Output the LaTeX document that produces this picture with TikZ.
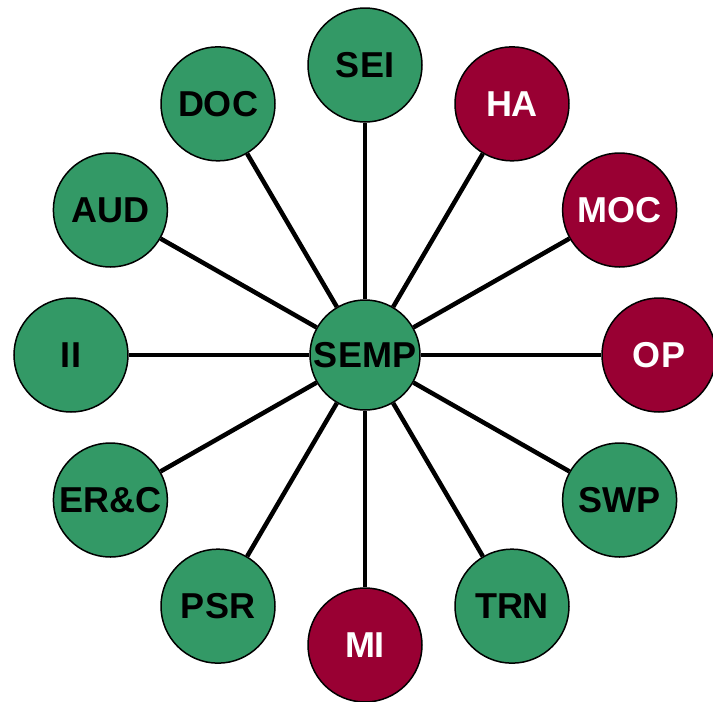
\documentclass[tikz,border=0pt]{standalone}
\usepackage{fontspec}
\usetikzlibrary{calc}
\setmainfont{Liberation Sans}
\definecolor{cgreen}{HTML}{339966}
\definecolor{cred}{HTML}{990033}
\begin{document}
\begin{tikzpicture}[x=1pt,y=-1pt,
  bub/.style={circle,draw=black,line width=1.5pt,minimum size=114pt,inner sep=0pt,
    font=\fontsize{36}{36}\selectfont\bfseries},
  gbub/.style={bub,fill=cgreen,text=black},
  rbub/.style={bub,fill=cred,text=white},
  spoke/.style={line width=4.5pt,draw=black}]
\useasboundingbox (0,0) rectangle (713,702);
\def\Rx{294}
\def\Ry{290}
\node[gbub,minimum size=110pt] (semp) at (365,355) {SEMP};
\foreach \nm/\lab/\ang/\st in {sei/SEI/90/gbub, ha/HA/60/rbub, moc/MOC/30/rbub, op/OP/0/rbub,
  swp/SWP/-30/gbub, trn/TRN/-60/gbub, mi/MI/-90/rbub, psr/PSR/-120/gbub,
  erc/ER\&C/-150/gbub, ii/II/180/gbub, aud/AUD/150/gbub, doc/DOC/120/gbub}{
  \node[\st] (\nm) at ($(semp.center)+({\Rx*cos(\ang)},{-\Ry*sin(\ang)})$) {\lab};
  \draw[spoke] (semp) -- (\nm);
}
\end{tikzpicture}
\end{document}
